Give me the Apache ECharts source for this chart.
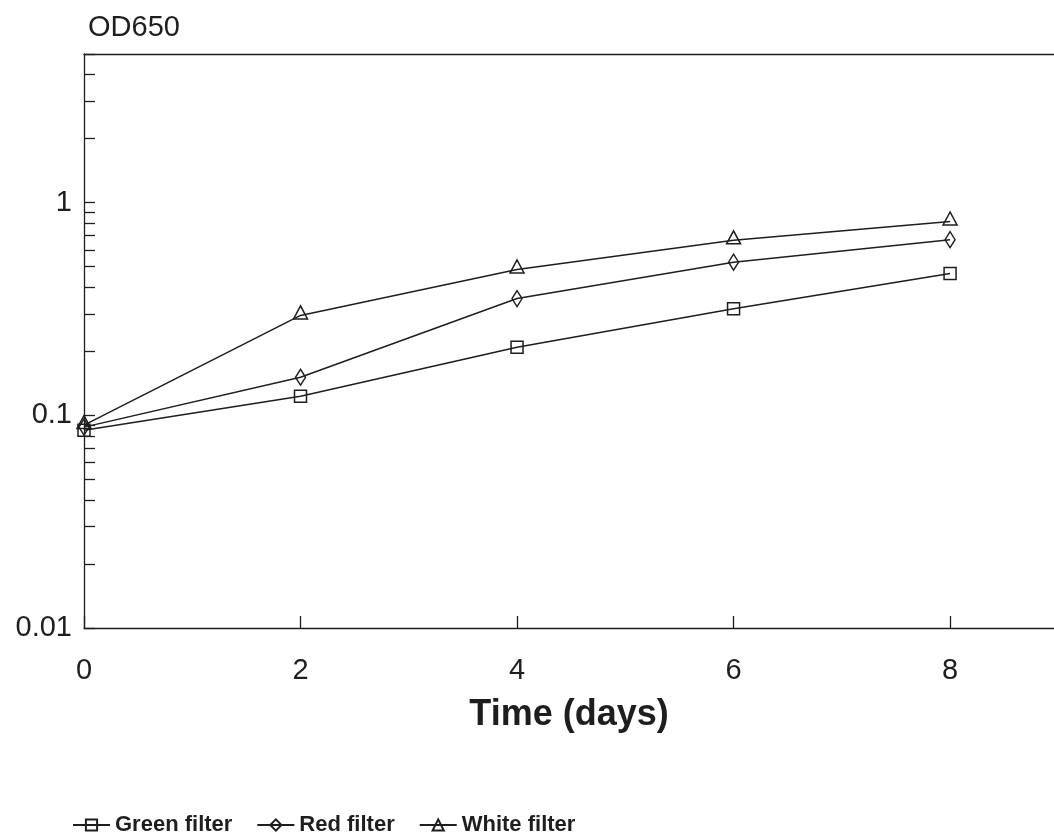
<!DOCTYPE html>
<html>
<head>
<meta charset="utf-8">
<script src="https://cdn.jsdelivr.net/npm/echarts@6/dist/echarts.min.js"></script>
<style>
html,body{margin:0;padding:0;background:#fff;}
#chart{width:1054px;height:840px;}
</style>
</head>
<body>
<div id="chart"></div>
<script>
const days = [0, 2, 4, 6, 8];
const greenFilter = [0.085, 0.123, 0.209, 0.317, 0.464];
const redFilter = [0.088, 0.151, 0.354, 0.525, 0.67];
const whiteFilter = [0.09, 0.295, 0.485, 0.665, 0.815];
const xTicks = [0, 2, 4, 6, 8];
const yLabelValues = [0.01, 0.1, 1];
const yTickValues = [0.01,0.02,0.03,0.04,0.05,0.06,0.07,0.08,0.09,0.1,0.2,0.3,0.4,0.5,0.6,0.7,0.8,0.9,1,2,3,4,5];

const ink = '#1e1e1e';
const font = "'Liberation Sans', Arial, sans-serif";
const xMax = 8.96;
function pairs(v){ return days.map((d,i)=>[d, v[i]]); }
function ser(name, data, symbol, size, offset){
  return {
    name, type:'line', data: pairs(data), symbol, symbolSize:size, symbolOffset: offset || [0,0],
    showSymbol:true,
    lineStyle:{color:ink, width:1.5},
    itemStyle:{color:'rgba(255,255,255,0)', borderColor:ink, borderWidth:1.5},
    emphasis:{disabled:true}, animation:false, z:3
  };
}
const chart = echarts.init(document.getElementById('chart'));
chart.setOption({
  animation:false,
  backgroundColor:'#fff',
  title:{text:'OD650', left:83, top:8, textStyle:{fontFamily:font, fontSize:29, fontWeight:'normal', color:ink}},
  grid:{left:84, right:0, top:54, bottom:212},
  legend:{
    left:67, top:809, itemWidth:37, itemHeight:14, itemGap:24,
    textStyle:{fontFamily:font, fontSize:22, fontWeight:'bold', color:ink},
    data:['Green filter','Red filter','White filter']
  },
  xAxis:[{
    type:'value', min:0, max:xMax, interval:2,
    name:'Time (days)', nameLocation:'middle', nameGap:69,
    nameTextStyle:{fontFamily:font, fontSize:36, fontWeight:'bold', color:ink},
    axisLine:{lineStyle:{color:ink, width:1.3}},
    axisTick:{inside:true, length:12, lineStyle:{color:ink, width:1.3}, customValues: xTicks},
    axisLabel:{fontFamily:font, fontSize:29, color:ink, margin:28, customValues: xTicks},
    splitLine:{show:false}
  },{
    type:'value', position:'top', min:0, max:xMax,
    axisLine:{show:true, lineStyle:{color:ink, width:1.3}},
    axisTick:{show:false}, axisLabel:{show:false}, splitLine:{show:false}
  }],
  yAxis:{
    type:'log', logBase:10, min:0.01, max:5,
    axisLine:{show:true, lineStyle:{color:ink, width:1.3}},
    axisTick:{show:true, inside:true, length:11, lineStyle:{color:ink, width:1.3}, customValues: yTickValues},
    axisLabel:{fontFamily:font, fontSize:29, color:ink, margin:12, customValues: yLabelValues,
      formatter: v => String(v)},
    splitLine:{show:false}
  },
  series:[
    ser('Green filter', greenFilter, 'rect', 12),
    ser('Red filter', redFilter, 'diamond', [10,16]),
    ser('White filter', whiteFilter, 'triangle', [14,13], [0,-3])
  ]
});
</script>
</body>
</html>
